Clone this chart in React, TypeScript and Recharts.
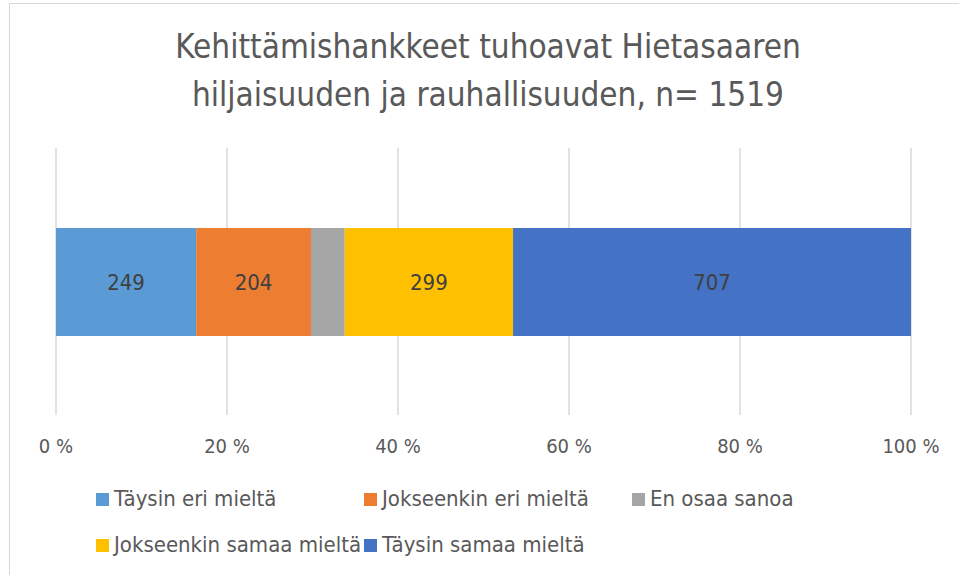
import { BarChart, Bar, XAxis, YAxis, CartesianGrid, LabelList } from 'recharts';

const categories = ['Kehittämishankkeet tuhoavat Hietasaaren hiljaisuuden ja rauhallisuuden'];
const seriesNames = [
  'Täysin eri mieltä',
  'Jokseenkin eri mieltä',
  'En osaa sanoa',
  'Jokseenkin samaa mieltä',
  'Täysin samaa mieltä',
];
const seriesValues = [249, 204, 60, 299, 707];
const seriesColors = ['#5b9bd5', '#ed7d31', '#a5a5a5', '#ffc000', '#4472c4'];
const showLabel = [true, true, false, true, true];
const xTicks = [0, 0.2, 0.4, 0.6, 0.8, 1];

const FONT = '"Liberation Sans Narrow", "DejaVu Sans Condensed", sans-serif';

const rows = categories.map((c) => {
  const row: Record<string, string | number> = { name: c };
  seriesNames.forEach((s, i) => {
    row[s] = seriesValues[i];
  });
  return row;
});

export default function App() {
  return (
    <div
      style={{
        position: 'absolute',
        left: 0,
        top: 0,
        width: 959,
        height: 575,
        overflow: 'hidden',
        background: '#fff',
        fontFamily: FONT,
      }}
    >
      <div
        style={{
          position: 'absolute',
          left: 9,
          top: 3,
          width: 1000,
          height: 1000,
          border: '1.5px solid #d9d9d9',
        }}
      />
      <div
        style={{
          position: 'absolute',
          left: 9,
          top: 23,
          width: 958,
          textAlign: 'center',
          color: '#595959',
          fontSize: 33,
          lineHeight: '48px',
        }}
      >
        Kehittämishankkeet tuhoavat Hietasaaren
        <br />
        hiljaisuuden ja rauhallisuuden, n= 1519
      </div>
      <div style={{ position: 'absolute', left: 0, top: 0 }}>
        <BarChart
          width={959}
          height={575}
          data={rows}
          layout="vertical"
          stackOffset="expand"
          barSize={108}
          margin={{ top: 148, right: 48, bottom: 120, left: 56 }}
        >
          <CartesianGrid horizontal={false} stroke="#d9d9d9" strokeWidth={1.5} />
          <XAxis
            type="number"
            domain={[0, 1]}
            ticks={xTicks}
            height={40}
            axisLine={false}
            tickLine={false}
            tickMargin={18}
            tick={{ fontSize: 20, fill: '#595959', fontFamily: FONT }}
            tickFormatter={(v) => `${Math.round(Number(v) * 100)} %`}
          />
          <YAxis type="category" dataKey="name" hide />
          {seriesNames.map((s, i) => (
            <Bar key={s} dataKey={s} stackId="a" fill={seriesColors[i]} isAnimationActive={false}>
              {showLabel[i] && (
                <LabelList
                  dataKey={s}
                  position="center"
                  fill="#404040"
                  fontSize={22}
                  fontFamily={FONT}
                />
              )}
            </Bar>
          ))}
        </BarChart>
      </div>
      <div
        style={{
          position: 'absolute',
          left: 96,
          top: 484,
          width: 820,
          display: 'grid',
          gridTemplateColumns: 'repeat(3, 268px)',
          rowGap: 16,
          color: '#595959',
          fontSize: 22,
          lineHeight: '30px',
        }}
      >
        {seriesNames.map((s, i) => (
          <div key={s} style={{ display: 'flex', alignItems: 'center', whiteSpace: 'nowrap' }}>
            <span
              style={{
                display: 'inline-block',
                width: 13,
                height: 13,
                background: seriesColors[i],
                marginRight: 5,
              }}
            />
            {s}
          </div>
        ))}
      </div>
    </div>
  );
}
